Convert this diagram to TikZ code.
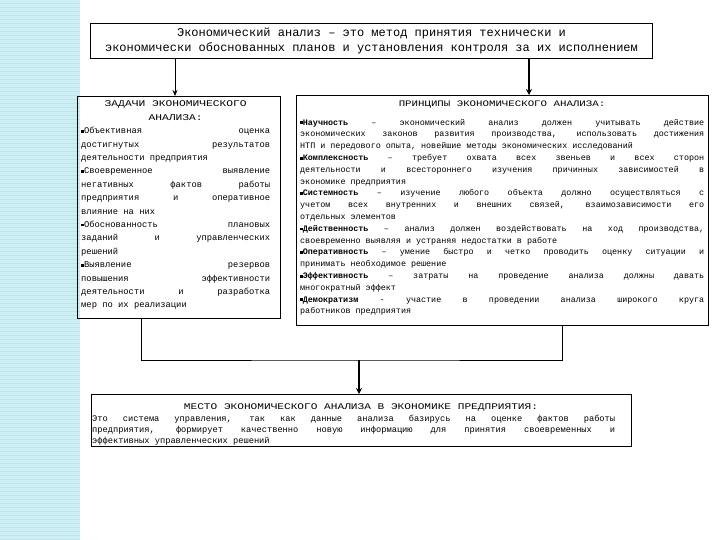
\documentclass[tikz,border=0pt]{standalone}
\usepackage{fontspec}
\usepackage{graphicx}
\setmainfont{Liberation Mono}
\usetikzlibrary{arrows.meta}
\definecolor{stripbg}{RGB}{206,239,243}
\definecolor{stripln}{RGB}{188,230,236}
\newcommand\bul{\rule[0.12em]{0.32em}{0.32em}}
\newcommand\wide[1]{\scalebox{1.28}[1]{#1}}
\tikzset{
  boxnode/.style={draw=black, line width=1pt, inner sep=0pt, anchor=north west},
  txt/.style={inner sep=0pt, anchor=north west, align=justify,
    execute at begin node={\parindent0pt\tolerance10000\hbadness10000\hyphenpenalty10000\spaceskip=.6em plus .4em minus .05em\relax}},
  link/.style={line width=1pt},
  thinarrow/.style={line width=0.8pt, -{Stealth[length=6pt,width=5pt]}},
  thickarrow/.style={line width=2pt, -{Stealth[length=6pt,width=6pt]}},
}
\begin{document}
\begin{tikzpicture}[x=1pt,y=-1pt]
\useasboundingbox (0,0) rectangle (720,540);
\fill[white] (0,0) rectangle (720,540);
% left decorative strip
\fill[stripbg] (0,0) rectangle (80,540);
\foreach \k in {1,...,135}{\draw[stripln, line width=0.8pt] (0,{4*\k-1}) -- (80,{4*\k-1});}

% boxes
\node[boxnode, minimum width=562pt, minimum height=35pt] (top) at (90,23) {};
\node[boxnode, minimum width=203pt, minimum height=222pt] (left) at (77,96) {};
\node[boxnode, minimum width=412pt, minimum height=230pt] (right) at (296,95) {};
\node[boxnode, minimum width=540pt, minimum height=52pt] (bottom) at (91,394) {};

% top text
\node[inner sep=0pt, align=center, font=\fontsize{12}{14.5}\selectfont] (toptext) at (top.center)
 {Экономический анализ – это метод принятия технически и\\экономически обоснованных планов и установления контроля за их исполнением};

% left text
\node[txt, text width=189pt, font=\fontsize{8.8}{13.4}\selectfont] (lefttext) at (81,100.8) {%
{\centering\wide{ЗАДАЧИ ЭКОНОМИЧЕСКОГО}\par\wide{АНАЛИЗА:}\par}
\bul Объективная оценка\linebreak достигнутых результатов\linebreak деятельности предприятия\par
\bul Своевременное выявление\linebreak негативных фактов работы\linebreak предприятия и оперативное\linebreak влияние на них\par
\bul Обоснованность плановых\linebreak заданий и управленческих\linebreak решений\par
\bul Выявление резервов\linebreak повышения эффективности\linebreak деятельности и разработка\linebreak мер по их реализации\par};

% right text
\node[inner sep=0pt, font=\fontsize{8.4}{11.8}\selectfont] (righttitle) at (502,105) {\wide{ПРИНЦИПЫ ЭКОНОМИЧЕСКОГО АНАЛИЗА:}};
\node[txt, text width=404pt, font=\fontsize{8.4}{11.8}\selectfont] (righttext) at (300,119) {%
\bul\textbf{Научность} – экономический анализ должен учитывать действие\linebreak экономических законов развития производства, использовать достижения\linebreak НТП и передового опыта, новейшие методы экономических исследований\par
\bul\textbf{Комплексность} – требует охвата всех звеньев и всех сторон\linebreak деятельности и всестороннего изучения причинных зависимостей в\linebreak экономике предприятия\par
\bul\textbf{Системность} – изучение любого объекта должно осуществляться с\linebreak учетом всех внутренних и внешних связей, взаимозависимости его\linebreak отдельных элементов\par
\bul\textbf{Действенность} – анализ должен воздействовать на ход производства,\linebreak своевременно выявляя и устраняя недостатки в работе\par
\bul\textbf{Оперативность} – умение быстро и четко проводить оценку ситуации и\linebreak принимать необходимое решение\par
\bul\textbf{Эффективность} – затраты на проведение анализа должны давать\linebreak многократный эффект\par
\bul\textbf{Демократизм} - участие в проведении анализа широкого круга\linebreak работников предприятия\par};

% bottom text
\node[inner sep=0pt, font=\fontsize{8.7}{11}\selectfont] (bottomtitle) at (361,407) {\wide{МЕСТО ЭКОНОМИЧЕСКОГО АНАЛИЗА В ЭКОНОМИКЕ ПРЕДПРИЯТИЯ:}};
\node[txt, text width=523pt, font=\fontsize{8.7}{11}\selectfont] (bottomtext) at (92,415.3) {%
Это система управления, так как данные анализа базирусь на оценке фактов работы\linebreak предприятия, формирует качественно новую информацию для принятия своевременных и\linebreak эффективных управленческих решений\par};

% connectors
\coordinate (ax1) at (175,0);
\coordinate (ax2) at (529,0);
\coordinate (lx) at (141,0);
\coordinate (rx) at (562,0);
\coordinate (join) at (359,360);
\draw[thinarrow] (ax1 |- top.south) -- (ax1 |- left.north);
\draw[thickarrow] (ax2 |- top.south) -- (ax2 |- right.north);
\draw[link] (lx |- left.south) |- (join) -| (rx |- right.south);
\draw[thickarrow] (join) -- (join |- bottom.north);
\end{tikzpicture}
\end{document}
